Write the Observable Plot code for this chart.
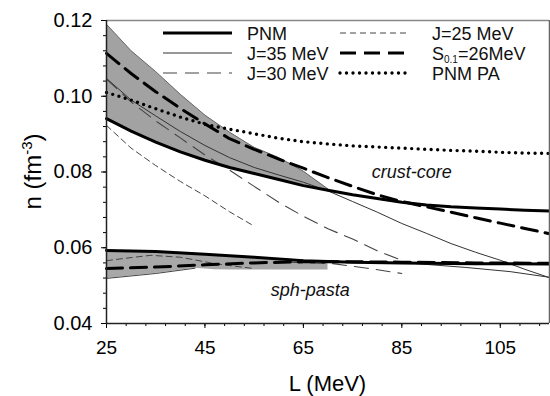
<!DOCTYPE html>
<html><head><meta charset="utf-8">
<script src="https://cdn.jsdelivr.net/npm/d3@7"></script>
<script src="https://cdn.jsdelivr.net/npm/@observablehq/plot@0.6"></script>
<style>
body{margin:0;background:#fff;}
#wrap{position:relative;width:550px;height:396px;font-family:"Liberation Sans",Arial,sans-serif;}
#wrap svg{display:block;}
#legend{position:absolute;left:0;top:0;}
</style></head><body><div id="wrap"></div>
<script>
// ---------- data ----------
// crust-core transition, L grid 25..115 step 5
const L_cc   = [25,30,35,40,45,50,55,60,65,70,75,80,85,90,95,100,105,110,115];
const pnmCC  = [0.0941,0.0908,0.0879,0.0853,0.0831,0.0812,0.0796,0.0780,0.0764,0.0752,0.0740,0.0730,0.0720,0.0713,0.0708,0.0705,0.0702,0.0699,0.0697];
const s01CC  = [0.1113,0.1060,0.1012,0.0968,0.0927,0.0888,0.0860,0.0834,0.0810,0.0785,0.0762,0.0740,0.0722,0.0708,0.0694,0.0679,0.0665,0.0651,0.0637];
const paCC   = [0.1010,0.0990,0.0967,0.0945,0.0926,0.0913,0.0901,0.0889,0.0880,0.0874,0.0869,0.0866,0.0863,0.0860,0.0857,0.0855,0.0852,0.0850,0.0849];
const j35CC  = [0.1047,0.0990,0.0948,0.0907,0.0870,0.0838,0.0812,0.0792,0.0773,0.0750,0.0722,0.0694,0.0664,0.0638,0.0611,0.0588,0.0567,0.0543,0.0521];
const L_j30CC = [25,30,35,40,45,50,55,60,65,70,75,80,85];
const j30CC   = [0.1045,0.0985,0.0935,0.0890,0.0845,0.0805,0.0762,0.0720,0.0683,0.0650,0.0623,0.0592,0.0567];
const L_j25CC = [25,30,35,40,45,50,55];
const j25CC   = [0.0923,0.0863,0.0817,0.0775,0.0737,0.0695,0.0657];
// gray band (crust-core)
const L_bandCC  = [25,30,35,40,45,50,55,60,65,70];
const bandCCHi  = [0.1190,0.1120,0.1065,0.1005,0.0950,0.0905,0.0865,0.0838,0.0802,0.0755];
const bandCCLo  = [0.0941,0.0908,0.0879,0.0853,0.0831,0.0812,0.0796,0.0780,0.0764,0.0752];

// spherical - pasta transition
const L_sph   = [25,35,45,55,65,75,85,100,115];
const pnmSph  = [0.0593,0.0590,0.0583,0.0575,0.0566,0.0562,0.0560,0.0558,0.0557];
const s01Sph  = [0.0545,0.0549,0.0555,0.0560,0.0563,0.0563,0.0562,0.0560,0.0559];
const L_j25Sph = [25,30,34,40,47,55];
const j25Sph   = [0.0566,0.0574,0.0580,0.0575,0.0558,0.0545];
const L_j30Sph = [62,71,78,85];
const j30Sph   = [0.0562,0.0558,0.0546,0.0532];
const L_j35Sph = [75,85,98,107,115];
const j35Sph   = [0.0561,0.0561,0.0548,0.0537,0.0522];
// gray band (sph-pasta)
const L_bandSph = [25,35,43,47,50,70];
const bandSphLo = [0.0519,0.0532,0.0546,0.0542,0.0541,0.0541];
const bandSphHi = [0.0593,0.0590,0.0584,0.0581,0.0579,0.0564];

const xTicks = [25,45,65,85,105];
const yTicks = [0.04,0.06,0.08,0.10,0.12];
const legendLabels = ["PNM","J=35 MeV","J=30 MeV","J=25 MeV","S0.1=26MeV","PNM PA"];
const annotations = [{text:"crust-core", L:87, n:0.0799},{text:"sph-pasta", L:66.4, n:0.0487}];

// ---------- styles ----------
const ST = {
  pnm:  {stroke:"#000", strokeWidth:3},
  j35:  {stroke:"#333", strokeWidth:1},
  j30:  {stroke:"#444", strokeWidth:1.1, strokeDasharray:"14,8"},
  j25:  {stroke:"#444", strokeWidth:1, strokeDasharray:"6,4"},
  s01:  {stroke:"#000", strokeWidth:3, strokeDasharray:"16,8"},
  pa:   {stroke:"#000", strokeWidth:3.4, strokeDasharray:"0,6.5", strokeLinecap:"round"}
};
const zip = (xs, ys) => xs.map((x,i)=>({L:x, n:ys[i]}));
const band = (xs, lo, hi) => xs.map((x,i)=>({L:x, lo:lo[i], hi:hi[i]}));

const FONT = "Liberation Sans, Arial, sans-serif";
const plot = Plot.plot({
  width:550, height:396,
  marginLeft:106, marginRight:1, marginTop:20, marginBottom:73,
  x:{domain:[25,115]},
  y:{domain:[0.04,0.12]},
  style:{fontFamily:FONT, fontSize:"19px", background:"white", color:"black", overflow:"visible"},
  marks:[
    Plot.areaY(band(L_bandCC,bandCCLo,bandCCHi), {x:"L", y1:"lo", y2:"hi", fill:"#a2a2a2"}),
    Plot.areaY(band(L_bandSph,bandSphLo,bandSphHi), {x:"L", y1:"lo", y2:"hi", fill:"#a8a8a8"}),
    Plot.line(zip(L_bandCC,bandCCHi), {x:"L", y:"n", stroke:"#666", strokeWidth:1}),
    Plot.line(zip(L_bandSph.slice(0,3),bandSphLo.slice(0,3)), {x:"L", y:"n", stroke:"#444", strokeWidth:1}),
    Plot.line(zip(L_cc,j35CC), {x:"L", y:"n", ...ST.j35}),
    Plot.line(zip(L_j35Sph,j35Sph), {x:"L", y:"n", ...ST.j35}),
    Plot.line(zip(L_j30CC,j30CC), {x:"L", y:"n", ...ST.j30}),
    Plot.line(zip(L_j30Sph,j30Sph), {x:"L", y:"n", ...ST.j30}),
    Plot.line(zip(L_j25CC,j25CC), {x:"L", y:"n", ...ST.j25}),
    Plot.line(zip(L_j25Sph,j25Sph), {x:"L", y:"n", ...ST.j25}),
    Plot.line(zip(L_cc,paCC), {x:"L", y:"n", ...ST.pa}),
    Plot.line(zip(L_cc,pnmCC), {x:"L", y:"n", ...ST.pnm}),
    Plot.line(zip(L_sph,pnmSph), {x:"L", y:"n", ...ST.pnm}),
    Plot.line(zip(L_cc,s01CC), {x:"L", y:"n", ...ST.s01}),
    Plot.line(zip(L_sph,s01Sph), {x:"L", y:"n", ...ST.s01}),
    Plot.text(annotations, {x:"L", y:"n", text:"text", fontStyle:"italic", fontSize:18, fill:"#111"}),
    Plot.axisX({ticks:d3.range(25,116,4), tickSize:3, tickFormat:()=>"", label:null}),
    Plot.axisX({ticks:xTicks, tickSize:5, tickPadding:12, tickFormat:d3.format("d"), label:null}),
    Plot.axisY({ticks:d3.range(0.04,0.1201,0.004), tickSize:3, tickFormat:()=>"", label:null}),
    Plot.axisY({ticks:yTicks, tickSize:5, tickPadding:9, tickFormat:d3.format(".2f"), label:null, fontSize:20}),
    Plot.ruleY([0.12], {stroke:"#888", strokeWidth:1.5}),
    Plot.ruleX([115], {stroke:"#666", strokeWidth:1.5}),
    Plot.ruleX([25], {stroke:"#222", strokeWidth:1.5}),
    Plot.ruleY([0.04], {stroke:"#222", strokeWidth:1.5})
  ]
});
const wrap = document.getElementById("wrap");
wrap.appendChild(plot);

// axis titles
const svg = d3.select(plot);
svg.append("text").attr("x",327.5).attr("y",391).attr("text-anchor","middle")
  .attr("font-family",FONT).attr("font-size",22).text("L (MeV)");
const yt = svg.append("text").attr("transform","translate(41,171.5) rotate(-90)")
  .attr("text-anchor","middle").attr("font-family",FONT).attr("font-size",24);
yt.append("tspan").text("n (fm");
yt.append("tspan").attr("font-size",15).attr("dy",-9).text("-3");
yt.append("tspan").attr("dy",9).text(")");

// legend
const lg = d3.select(wrap).append("svg").attr("id","legend").attr("width",550).attr("height",100);
const legendStyles = [ST.pnm, ST.j35, ST.j30, ST.j25, ST.s01, ST.pa];
const colLine = [[163,232],[340,407]], colText = [247,432], rowY = [33,53,73];
legendLabels.forEach((lab,i)=>{
  const c = Math.floor(i/3), r = i%3, s = legendStyles[i];
  lg.append("line").attr("x1",colLine[c][0]).attr("x2",colLine[c][1]).attr("y1",rowY[r]).attr("y2",rowY[r])
    .attr("stroke",s.stroke).attr("stroke-width",s.strokeWidth)
    .attr("stroke-dasharray",s.strokeDasharray||null).attr("stroke-linecap",s.strokeLinecap||null);
  const t = lg.append("text").attr("x",colText[c]).attr("y",rowY[r]+6.5)
    .attr("font-family",FONT).attr("font-size",18).attr("fill","#111");
  if (lab.startsWith("S0.1")) {
    t.append("tspan").text("S");
    t.append("tspan").attr("font-size",10).attr("dy",3).text("0.1");
    t.append("tspan").attr("dy",-3).text(lab.slice(4));
  } else t.text(lab);
});
</script></body></html>
